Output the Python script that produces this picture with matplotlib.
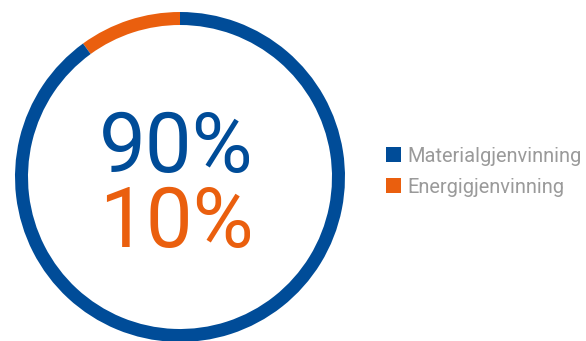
import matplotlib
matplotlib.use('Agg')
import matplotlib.pyplot as plt

labels = ['Energigjenvinning', 'Materialgjenvinning']
shares = [10, 90]
colors = ['#EA5F0E', '#004C98']
big_text = ['90%', '10%']

plt.rcParams['font.family'] = ['Roboto', 'DejaVu Sans']

fig = plt.figure(figsize=(5.86, 3.41), dpi=100)
ax = fig.add_axes([0, 0, 1, 1])

# ring, orange slice from 12 o'clock going counterclockwise
wedges, _ = ax.pie(shares, colors=colors, startangle=90, counterclock=True,
                   center=(180, 164), radius=165,
                   wedgeprops=dict(width=13, linewidth=0))
ax.set_xlim(0, 586)
ax.set_ylim(0, 341)
ax.set_aspect('equal')
ax.axis('off')

ax.text(176, 169, big_text[0], color=colors[1], fontsize=60, fontweight='normal',
        ha='center', va='baseline')
ax.text(176, 94, big_text[1], color=colors[0], fontsize=60, fontweight='normal',
        ha='center', va='baseline')

fig.legend([wedges[1], wedges[0]], [labels[1], labels[0]],
           loc='center left', bbox_to_anchor=(386 / 586, 0.497),
           frameon=False, fontsize=14.4, labelcolor='#9a9a9a',
           handlelength=0.75, handleheight=0.75, handletextpad=0.3,
           labelspacing=0.6, borderpad=0, borderaxespad=0)

plt.savefig('out.png', dpi=100)
